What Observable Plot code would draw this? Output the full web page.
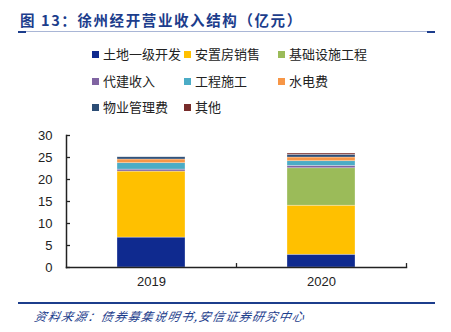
<!DOCTYPE html>
<html>
<head>
<meta charset="utf-8">
<script src="https://cdn.jsdelivr.net/npm/d3@7"></script>
<script src="https://cdn.jsdelivr.net/npm/@observablehq/plot@0.6"></script>
<style>
  html, body { margin: 0; padding: 0; background: #fff; }
  #wrap { position: relative; width: 451px; height: 332px; overflow: hidden; font-family: "Liberation Sans", "Noto Sans CJK SC", sans-serif; }
  #title { position: absolute; left: 20px; top: 9px; font-family: "Noto Sans CJK SC", sans-serif; font-weight: bold; font-size: 14.5px; color: #1c3d8c; letter-spacing: 1.6px; white-space: nowrap; line-height: 22px; }
  #rule1 { position: absolute; left: 18px; top: 31px; width: 417px; height: 1px; background: #a9b6d6; }
  .end { position: absolute; top: 31px; height: 1.5px; background: #1c3d8c; width: 8px; }
  #legend { position: absolute; left: 0; top: 0; }
  .li { position: absolute; font-family: "Noto Sans CJK SC", sans-serif; font-size: 13px; color: #222; white-space: nowrap; line-height: 16px; }
  .sw { position: absolute; width: 7px; height: 7px; }
  #plot { position: absolute; left: 0; top: 120px; }
  #rule2 { position: absolute; left: 18px; top: 302px; width: 417px; height: 1.5px; background: #1c3d8c; }
  #source { position: absolute; left: 33px; top: 307px; font-family: "Noto Sans CJK SC", sans-serif; font-style: italic; font-size: 12px; color: #1c3d8c; letter-spacing: 1.3px; white-space: nowrap; line-height: 18px; transform: skewX(-12deg); transform-origin: left bottom; }
</style>
</head>
<body>
<div id="wrap">
  <div id="title">图 13：徐州经开营业收入结构（亿元）</div>
  <div id="rule1"></div>
  <div class="end" style="left:18px"></div>
  <div class="end" style="left:427px"></div>
  <div id="legend"></div>
  <div id="plot"></div>
  <div id="rule2"></div>
  <div id="source">资料来源：债券募集说明书,安信证券研究中心</div>
</div>
<script>
// ---- data ----
const years = ["2019", "2020"];
const series = ["土地一级开发", "安置房销售", "基础设施工程", "代建收入", "工程施工", "水电费", "物业管理费", "其他"];
const values2019 = [6.8, 15.0, 0, 0.45, 1.45, 0.85, 0.5, 0];
const values2020 = [2.9, 11.15, 8.5, 0.55, 1.05, 0.85, 0.6, 0.3];
const colors = ["#0f2a8f", "#ffc000", "#9bbb59", "#8064a2", "#4bacc6", "#f79646", "#2c4d75", "#772c2a"];
const yTicks = [0, 5, 10, 15, 20, 25, 30];

const table = [];
series.forEach((s, i) => {
  table.push({year: years[0], series: s, value: values2019[i]});
  table.push({year: years[1], series: s, value: values2020[i]});
});

// ---- legend (HTML) ----
const legend = document.getElementById("legend");
const colX = [92, 184, 278];
const rowY = [54, 81, 107];
series.forEach((s, i) => {
  const c = i % 3, r = Math.floor(i / 3);
  const sw = document.createElement("div");
  sw.className = "sw";
  sw.style.left = colX[c] + "px";
  sw.style.top = (rowY[r] - 3.5) + "px";
  sw.style.background = colors[i];
  legend.appendChild(sw);
  const t = document.createElement("div");
  t.className = "li";
  t.style.left = (colX[c] + 11) + "px";
  t.style.top = (rowY[r] - 8.5) + "px";
  t.textContent = s;
  legend.appendChild(t);
});

// ---- chart ----
const chart = Plot.plot({
  width: 451,
  height: 175,
  marginTop: 15,
  marginBottom: 28,
  marginLeft: 66,
  marginRight: 45,
  style: {fontFamily: "'Liberation Sans', Arial, sans-serif", fontSize: "13px", color: "#222"},
  x: {domain: years, paddingInner: 0.6, paddingOuter: 0.3, label: null},
  y: {domain: [0, 30], label: null},
  color: {domain: series, range: colors},
  marks: [
    Plot.barY(table, {x: "year", y: "value", fill: "series", order: null, stroke: "#ffffff", strokeWidth: 0.6, strokeOpacity: 0.5}),
    Plot.axisY(yTicks, {tickSize: -4, tickPadding: 18, stroke: "#222", strokeWidth: 1.3, fill: "#222"}),
    Plot.axisX({tickSize: 0, tickPadding: 9, fill: "#222"}),
    Plot.ruleX(years, {x: d => d, dx: 85, y1: 0, y2: 0.9, stroke: "#222", strokeWidth: 1.3}),
    Plot.frame({anchor: "left", stroke: "#222", strokeWidth: 1.5}),
    Plot.frame({anchor: "bottom", stroke: "#222", strokeWidth: 1.5})
  ]
});
document.getElementById("plot").appendChild(chart);
</script>
</body>
</html>
